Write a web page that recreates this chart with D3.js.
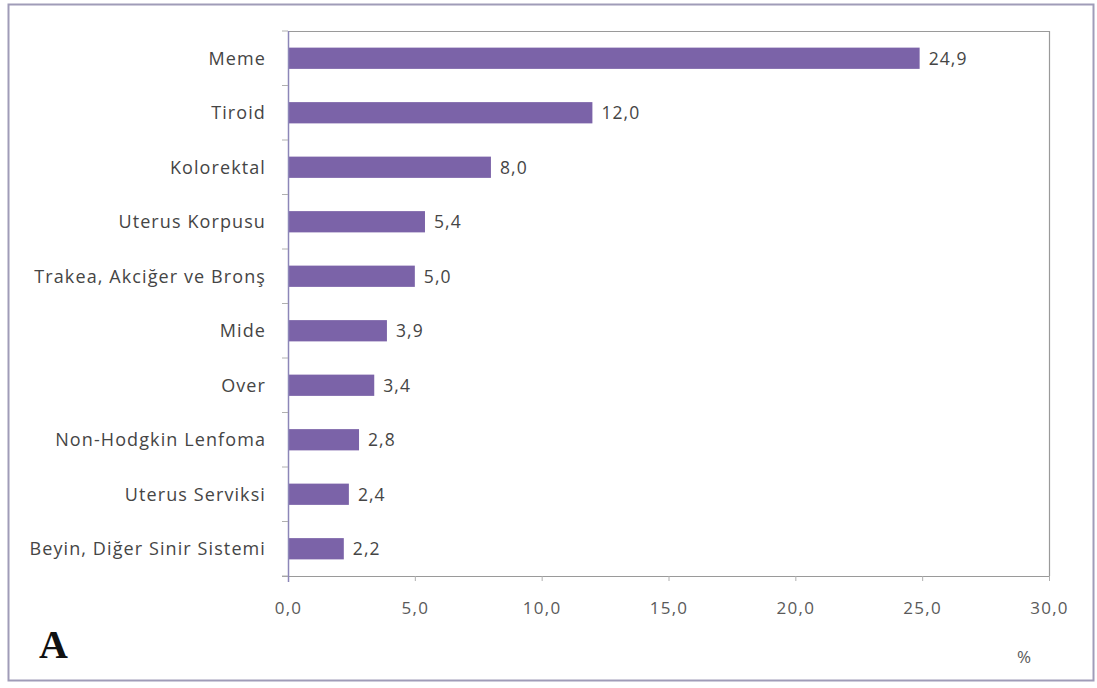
<!DOCTYPE html>
<html>
<head>
<meta charset="utf-8">
<script src="https://cdn.jsdelivr.net/npm/d3@7"></script>
<style>
  html, body { margin: 0; padding: 0; background: #fff; }
  svg { display: block; }
</style>
</head>
<body>
<svg id="chart" width="1097" height="688"></svg>
<script>
// Cancer sites (women) and their share in percent
const categories = [
  "Meme", "Tiroid", "Kolorektal", "Uterus Korpusu", "Trakea, Akciğer ve Bronş",
  "Mide", "Over", "Non-Hodgkin Lenfoma", "Uterus Serviksi", "Beyin, Diğer Sinir Sistemi"
];
const values = [24.9, 12.0, 8.0, 5.4, 5.0, 3.9, 3.4, 2.8, 2.4, 2.2];
const xTicks = [0, 5, 10, 15, 20, 25, 30];

const svg = d3.select("#chart");
const plot = { left: 288, top: 31, right: 1049, bottom: 576 };
const fontFam = "'Open Sans', 'Liberation Sans', sans-serif";
const fmt = v => d3.format(".1f")(v).replace(".", ",");

// outer frame
svg.append("rect")
  .attr("x", 8.5).attr("y", 4.5)
  .attr("width", 1085).attr("height", 676)
  .attr("fill", "#fff")
  .attr("stroke", "#a09cb8").attr("stroke-width", 2);

const x = d3.scaleLinear().domain([0, 30]).range([plot.left, plot.right]);
const y = d3.scaleBand().domain(categories).range([plot.top, plot.bottom]).paddingInner(0.61).paddingOuter(0.305);

// plot area border (top and right)
svg.append("path")
  .attr("d", `M${plot.left},${plot.top + 0.5}H${plot.right + 0.5}V${plot.bottom}`)
  .attr("fill", "none").attr("stroke", "#9a9a9a").attr("stroke-width", 1.2);

// bars
svg.append("g").selectAll("rect")
  .data(values)
  .join("rect")
  .attr("x", x(0))
  .attr("y", (d, i) => y(categories[i]))
  .attr("width", d => x(d) - x(0))
  .attr("height", y.bandwidth())
  .attr("fill", "#7b63a8");

// value labels
svg.append("g").selectAll("text")
  .data(values)
  .join("text")
  .attr("x", d => x(d) + 9)
  .attr("y", (d, i) => y(categories[i]) + y.bandwidth() / 2)
  .attr("dy", "0.36em")
  .attr("font-family", fontFam)
  .attr("font-size", 17.5)
  .attr("font-weight", 500)
  .attr("letter-spacing", "1.1px")
  .attr("fill", "#454545")
  .text(d => fmt(d));

// x axis
const xAxis = d3.axisBottom(x).tickValues(xTicks).tickFormat(fmt).tickSize(5).tickSizeOuter(0);
const gx = svg.append("g").attr("transform", `translate(0,${plot.bottom})`).call(xAxis);
gx.select(".domain").attr("stroke", "#9a9a9a").attr("stroke-width", 1.2)
  .attr("d", `M${plot.left - 6},0.5H${plot.right + 0.5}`);
gx.selectAll(".tick line").attr("stroke", "#b0b0b0");
gx.selectAll(".tick text")
  .attr("font-family", fontFam).attr("font-size", 17).attr("font-weight", 500)
  .attr("letter-spacing", "1.3px").attr("fill", "#5a5a5a")
  .attr("y", 0).attr("dy", "2.25em");

// y axis: labels plus tick marks at category boundaries
const gy = svg.append("g").attr("transform", `translate(${plot.left},0)`);
gy.append("line")
  .attr("x1", 0.5).attr("x2", 0.5).attr("y1", plot.top).attr("y2", plot.bottom + 6)
  .attr("stroke", "#8c86b8").attr("stroke-width", 1.5);
const bounds = d3.range(categories.length + 1).map(i => plot.top + i * (plot.bottom - plot.top) / categories.length);
gy.selectAll(".b")
  .data(bounds)
  .join("line")
  .attr("x1", -6).attr("x2", 0)
  .attr("y1", d => d).attr("y2", d => d)
  .attr("stroke", "#b0b0b0");
gy.selectAll("text")
  .data(categories)
  .join("text")
  .attr("x", -22)
  .attr("y", d => y(d) + y.bandwidth() / 2)
  .attr("dy", "0.36em")
  .attr("text-anchor", "end")
  .attr("font-family", fontFam)
  .attr("font-size", 18)
  .attr("font-weight", 500)
  .attr("letter-spacing", "1.1px")
  .attr("fill", "#454545")
  .text(d => d);

// unit label
svg.append("text")
  .attr("x", 1024).attr("y", 663)
  .attr("text-anchor", "middle")
  .attr("font-family", fontFam).attr("font-size", 17).attr("font-weight", 500).attr("fill", "#5a5a5a")
  .text("%");

// panel letter
svg.append("text")
  .attr("x", 39).attr("y", 658)
  .attr("font-family", "'Liberation Serif', 'DejaVu Serif', serif")
  .attr("font-weight", "bold").attr("font-size", 40).attr("fill", "#111")
  .text("A");
</script>
</body>
</html>
